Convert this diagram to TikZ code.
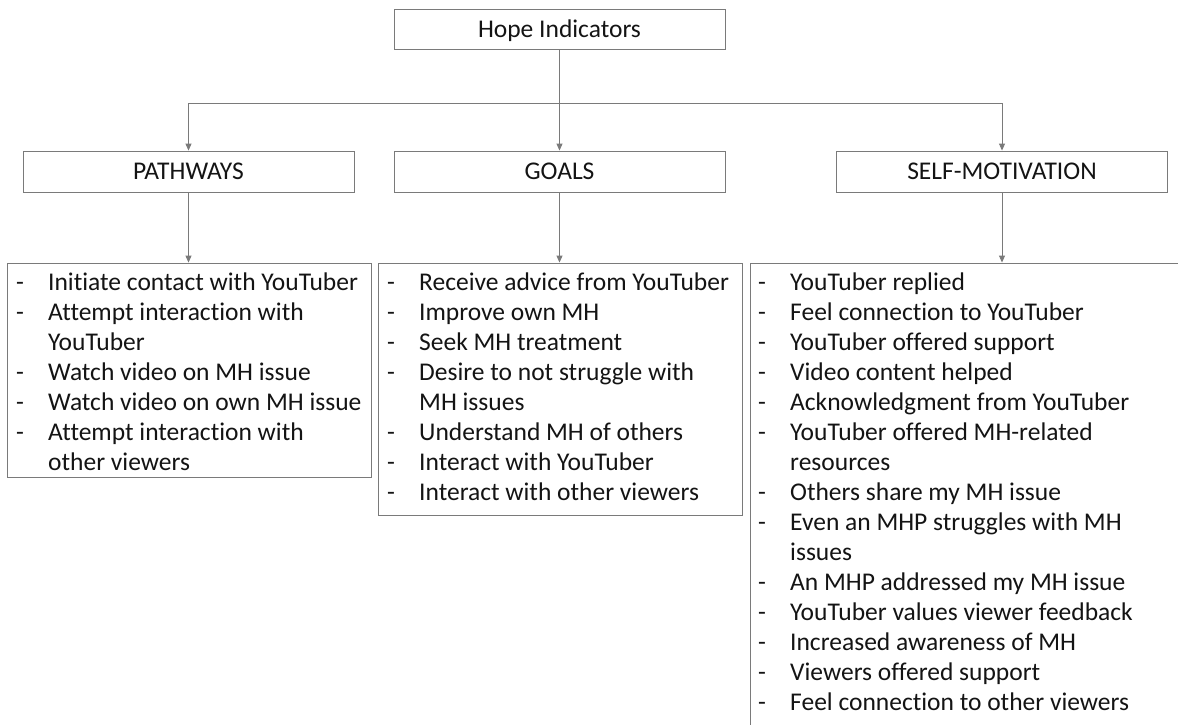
\documentclass[tikz,border=0pt]{standalone}
\usepackage{fontspec}
\setmainfont{Carlito}[Ligatures={NoCommon}]
\usetikzlibrary{arrows.meta}
\definecolor{linegray}{HTML}{7A7A7A}
\definecolor{txt}{HTML}{141414}
\newcommand\dashitem[1]{\makebox[32pt][l]{-}#1}
\newcommand\contitem[1]{\hspace*{32pt}#1}
\tikzset{
  boxline/.style={draw=linegray, line width=0.9pt},
  headbox/.style={boxline, rectangle, minimum width=331pt, minimum height=41pt,
    inner sep=0pt, text height=16pt, text depth=0pt, text=txt,
    font=\fontsize{25.5}{30}\selectfont},
  listbox/.style={boxline, rectangle, inner sep=0pt},
  itemtext/.style={anchor=base west, inner sep=0pt, text=txt,
    font=\fontsize{25.5}{30}\selectfont},
  arr/.style={draw=linegray, line width=0.9pt, -{Triangle[width=6pt,length=7pt]}},
  conn/.style={draw=linegray, line width=0.9pt}
}
\begin{document}
\begin{tikzpicture}[x=1pt,y=-1pt]
\useasboundingbox (0,0) rectangle (1178,724);
\clip (0,0) rectangle (1178,724);
\fill[white] (0,0) rectangle (1178,724);

% header boxes
\node[headbox, minimum height=40pt] (top) at (559.5,29) {Hope Indicators};
\node[headbox] (pathways) at (188.5,171.5) {PATHWAYS};
\node[headbox] (goals) at (559.5,171.5) {GOALS};
\node[headbox] (self) at (1002,171.5) {SELF-MOTIVATION};

% list boxes
\node[listbox, minimum width=364pt, minimum height=214pt] (plist) at (189,370) {};
\node[listbox, minimum width=364pt, minimum height=252pt] (glist) at (560,389) {};
\node[listbox, minimum width=506pt, minimum height=560pt] (slist) at (1003,543) {};

% connectors
\coordinate (split) at (559.5,103);
\draw[arr] (top.south) -- (goals.north);
\draw[conn] (split -| pathways.north) -- (split -| self.north);
\draw[arr] (split -| pathways.north) -- (pathways.north);
\draw[arr] (split -| self.north) -- (self.north);
\draw[arr] (pathways.south) -- (pathways.south |- plist.north);
\draw[arr] (goals.south) -- (goals.south |- glist.north);
\draw[arr] (self.south) -- (self.south |- slist.north);

% pathways items
\foreach \t [count=\i] in {
  \dashitem{Initiate contact with YouTuber},
  \dashitem{Attempt interaction with},
  \contitem{YouTuber},
  \dashitem{Watch video on MH issue},
  \dashitem{Watch video on own MH issue},
  \dashitem{Attempt interaction with},
  \contitem{other viewers}}
  \node[itemtext] (p\i) at (16,260+30*\i) {\t};

% goals items
\foreach \t [count=\i] in {
  \dashitem{Receive advice from YouTuber},
  \dashitem{Improve own MH},
  \dashitem{Seek MH treatment},
  \dashitem{Desire to not struggle with},
  \contitem{MH issues},
  \dashitem{Understand MH of others},
  \dashitem{Interact with YouTuber},
  \dashitem{Interact with other viewers}}
  \node[itemtext] (g\i) at (387,260+30*\i) {\t};

% self-motivation items
\foreach \t [count=\i] in {
  \dashitem{YouTuber replied},
  \dashitem{Feel connection to YouTuber},
  \dashitem{YouTuber offered support},
  \dashitem{Video content helped},
  \dashitem{Acknowledgment from YouTuber},
  \dashitem{YouTuber offered MH-related},
  \contitem{resources},
  \dashitem{Others share my MH issue},
  \dashitem{Even an MHP struggles with MH},
  \contitem{issues},
  \dashitem{An MHP addressed my MH issue},
  \dashitem{YouTuber values viewer feedback},
  \dashitem{Increased awareness of MH},
  \dashitem{Viewers offered support},
  \dashitem{Feel connection to other viewers}}
  \node[itemtext] (s\i) at (758,260+30*\i) {\t};
\end{tikzpicture}
\end{document}
